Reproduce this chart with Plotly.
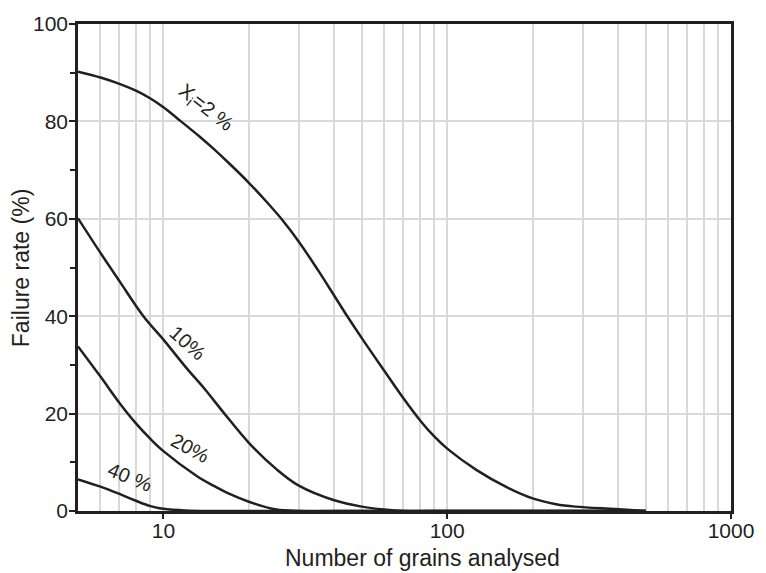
import math
import plotly.graph_objects as go

# Failure rate (%) versus number of grains analysed, for several
# proportions X_i of the grain population.
x_2 = [5, 6, 7, 8, 9, 10, 11.2, 13.4, 15, 17.1, 20, 23, 26.2, 30, 35, 40, 44.1, 50, 60, 70, 80, 90, 100, 127, 162, 200, 242, 283, 390, 500]
y_2 = [90.2, 89.0, 87.7, 86.3, 84.7, 82.9, 80.6, 76.9, 74.4, 71.3, 67.4, 63.6, 59.8, 55.3, 49.5, 44.2, 40.3, 35.5, 28.8, 23.2, 18.7, 15.3, 12.8, 8.4, 4.9, 2.6, 1.4, 0.9, 0.4, 0.0]

x_10 = [5, 6, 7, 8.5, 10, 12, 14, 16.4, 20, 25, 30, 40, 50, 60, 70, 100, 200, 500]
y_10 = [60.1, 53.0, 47.2, 40.0, 35.2, 29.5, 25.0, 20.0, 14.0, 8.6, 5.2, 2.2, 0.9, 0.3, 0.0, 0.0, 0.0, 0.0]

x_20 = [5, 6, 7, 8, 9, 10, 13.1, 15, 17.1, 20, 25, 30, 50, 100, 500]
y_20 = [33.8, 27.6, 22.2, 18.0, 14.8, 12.3, 7.2, 5.2, 3.5, 1.9, 0.3, 0.0, 0.0, 0.0, 0.0]

x_40 = [5, 6, 7, 8, 9, 10, 12, 15, 30, 100, 500]
y_40 = [6.5, 5.0, 3.5, 2.1, 1.0, 0.45, 0.1, 0.0, 0.0, 0.0, 0.0]

curve_labels = ["X<sub>i</sub>=2 %", "10%", "20%", "40 %"]
label_x = [14.1, 12.2, 12.4, 7.6]
label_y = [82.6, 34.6, 12.9, 6.9]
label_angle = [38, 42, 28, 22]

x_tick_vals = [10, 100, 1000]
x_tick_text = ["10", "100", "1000"]
x_minor_vals = [6, 7, 8, 9, 20, 30, 40, 50, 60, 70, 80, 90,
                200, 300, 400, 500, 600, 700, 800, 900]
y_tick_vals = [0, 20, 40, 60, 80, 100]

INK = "#231f20"
GRID = "#d9d9db"
FONT = "Liberation Sans, Arial, sans-serif"

fig = go.Figure()
for xs, ys in [(x_2, y_2), (x_10, y_10), (x_20, y_20), (x_40, y_40)]:
    fig.add_trace(go.Scatter(
        x=xs, y=ys, mode="lines",
        line=dict(color=INK, width=2.5, shape="spline", smoothing=1.0),
        showlegend=False, hoverinfo="skip",
    ))

# curve labels (annotation x on a log axis is given in log10 units)
for text, lx, ly, ang in zip(curve_labels, label_x, label_y, label_angle):
    fig.add_annotation(
        x=math.log10(lx), y=ly, xref="x", yref="y", text=text, showarrow=False,
        textangle=ang, font=dict(family=FONT, size=20, color=INK),
    )

# axis titles
fig.add_annotation(
    x=0.527, y=-0.096, xref="paper", yref="paper",
    text="Number of grains analysed", showarrow=False,
    xanchor="center", yanchor="middle",
    font=dict(family=FONT, size=23, color=INK),
)
fig.add_annotation(
    x=-0.087, y=0.499, xref="paper", yref="paper",
    text="Failure rate (%)", showarrow=False, textangle=-90,
    xanchor="center", yanchor="middle",
    font=dict(family=FONT, size=23, color=INK),
)

fig.update_xaxes(
    type="log", range=[0.69897, 3],
    tickvals=x_tick_vals, ticktext=x_tick_text,
    ticks="outside", ticklen=5, tickwidth=1.5, tickcolor=INK,
    ticklabelstandoff=-6,
    showgrid=True, gridcolor=GRID, gridwidth=2,
    minor=dict(tickvals=x_minor_vals, showgrid=True, gridcolor=GRID,
               gridwidth=2, ticks=""),
    showline=True, linecolor=INK, linewidth=2.5, mirror=True,
    tickfont=dict(family=FONT, size=21, color=INK),
    zeroline=False,
)
fig.update_yaxes(
    range=[0, 100], tickvals=y_tick_vals,
    ticks="outside", ticklen=6, tickwidth=1.5, tickcolor=INK,
    ticklabelstandoff=-3,
    showgrid=True, gridcolor=GRID, gridwidth=2,
    minor=dict(dtick=10, ticks="outside", ticklen=5, tickwidth=1.5,
               tickcolor=INK, showgrid=False),
    showline=True, linecolor=INK, linewidth=2.5, mirror=True,
    tickfont=dict(family=FONT, size=21, color=INK),
    zeroline=False,
)

fig.update_layout(
    width=766, height=573,
    margin=dict(l=78, r=29, t=22, b=62),
    paper_bgcolor="white", plot_bgcolor="white",
)

fig.write_html("out.html")
